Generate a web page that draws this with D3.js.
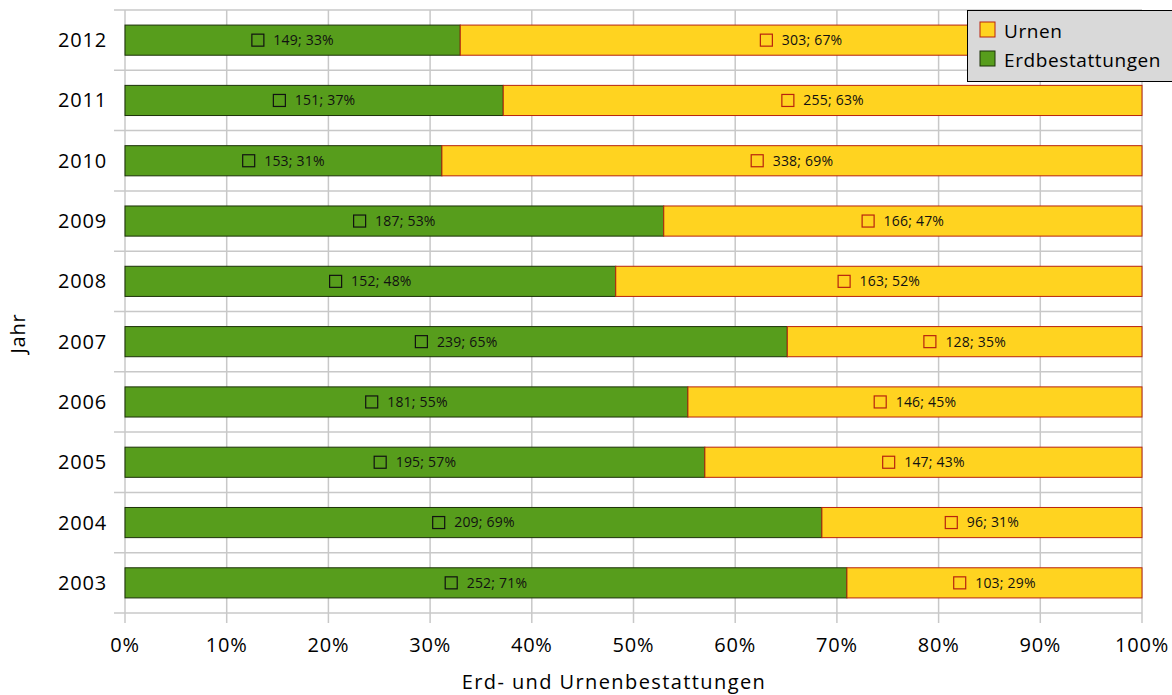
<!DOCTYPE html>
<html>
<head>
<meta charset="utf-8">
<script src="https://cdn.jsdelivr.net/npm/d3@7"></script>
<style>
  body { margin: 0; background: #fff; }
  svg { display: block; font-family: "Open Sans", sans-serif; }
</style>
</head>
<body>
<svg id="chart" width="1172" height="695"></svg>
<script>
const years = ["2012", "2011", "2010", "2009", "2008", "2007", "2006", "2005", "2004", "2003"]
const erd = [149, 151, 153, 187, 152, 239, 181, 195, 209, 252]
const urnen = [303, 255, 338, 166, 163, 128, 146, 147, 96, 103]
const erdPct = [33, 37, 31, 53, 48, 65, 55, 57, 69, 71]
const urnenPct = [67, 63, 69, 47, 52, 35, 45, 43, 31, 29]
const xTicks = [0, 0.1, 0.2, 0.3, 0.4, 0.5, 0.6, 0.7, 0.8, 0.9, 1]

const green = '#579d1c', greenLine = '#1c3209'
const yellow = '#ffd320', yellowLine = '#b8230e'
const grid = '#c8c8c8'

const margin = { top: 10, right: 30, bottom: 82, left: 125 }
const w = 1172, h = 695
const width = w - margin.left - margin.right
const height = h - margin.top - margin.bottom

const svg = d3.select('#chart')
const chart = svg.append('g').attr('transform', `translate(${margin.left}, ${margin.top})`)

const x = d3.scaleLinear().domain([0, 1]).range([0, width])
const y = d3.scaleBand().domain(years).range([0, height]).paddingInner(0.5).paddingOuter(0.25)
const yb = d3.scaleBand().domain(years).range([0, height])

// gridlines + ticks
chart.append('g').selectAll('line')
    .data(xTicks)
    .join('line')
    .attr('x1', d => x(d)).attr('x2', d => x(d))
    .attr('y1', 0).attr('y2', height + 10)
    .attr('stroke', grid).attr('stroke-width', 1.5)

const bounds = years.map(d => yb(d)).concat([height])
chart.append('g').selectAll('line')
    .data(bounds)
    .join('line')
    .attr('x1', -11).attr('x2', width)
    .attr('y1', d => d).attr('y2', d => d)
    .attr('stroke', grid).attr('stroke-width', 1.5)

const rows = years.map((yr, i) => {
    const total = erd[i] + urnen[i]
    return { yr, e: erd[i], u: urnen[i], ep: erdPct[i], up: urnenPct[i], share: erd[i] / total }
})

const bars = chart.append('g')
bars.selectAll('rect.erd')
    .data(rows)
    .join('rect')
    .attr('class', 'erd')
    .attr('x', x(0)).attr('y', d => y(d.yr))
    .attr('width', d => x(d.share) - x(0)).attr('height', y.bandwidth())
    .attr('fill', green).attr('stroke', greenLine).attr('stroke-width', 1)

bars.selectAll('rect.urn')
    .data(rows)
    .join('rect')
    .attr('class', 'urn')
    .attr('x', d => x(d.share)).attr('y', d => y(d.yr))
    .attr('width', d => x(1) - x(d.share)).attr('height', y.bandwidth())
    .attr('fill', yellow).attr('stroke', yellowLine).attr('stroke-width', 1)

// data labels: small key square + "n; p%"
function label(sel, cx, txt, col) {
    const g = sel.append('g')
    const t = g.append('text')
        .attr('x', 22).attr('y', 0).attr('dy', '0.35em')
        .attr('font-size', 14).attr('letter-spacing', 0.2).attr('fill', '#111')
        .text(txt)
    const tw = t.node().getComputedTextLength()
    g.append('rect')
        .attr('x', 0.5).attr('y', -6).attr('width', 12).attr('height', 12)
        .attr('fill', 'none').attr('stroke', col).attr('stroke-width', 1.2)
    g.attr('transform', `translate(${cx - (22 + tw) / 2}, 0)`)
}

rows.forEach(d => {
    const cy = y(d.yr) + y.bandwidth() / 2
    const row = chart.append('g').attr('transform', `translate(0, ${cy})`)
    label(row, (x(0) + x(d.share)) / 2, `${d.e}; ${d.ep}%`, '#111')
    label(row, (x(d.share) + x(1)) / 2, `${d.u}; ${d.up}%`, yellowLine)
})

// axes labels
chart.append('g').selectAll('text')
    .data(years)
    .join('text')
    .attr('x', -18).attr('y', d => yb(d) + yb.bandwidth() / 2)
    .attr('dy', '0.35em').attr('text-anchor', 'end')
    .attr('font-size', 20).attr('letter-spacing', 0.8)
    .text(d => d)

chart.append('g').selectAll('text')
    .data(xTicks)
    .join('text')
    .attr('x', d => x(d)).attr('y', height + 39)
    .attr('text-anchor', 'middle')
    .attr('font-size', 20).attr('letter-spacing', 0.8)
    .text(d => d3.format('.0%')(d))

chart.append('text')
    .attr('x', 489).attr('y', height + 76)
    .attr('text-anchor', 'middle')
    .attr('font-size', 20).attr('letter-spacing', 1.4)
    .text('Erd- und Urnenbestattungen')

svg.append('text')
    .attr('transform', `translate(25, ${margin.top + height / 2 + 22}) rotate(-90)`)
    .attr('text-anchor', 'middle')
    .attr('font-size', 20).attr('letter-spacing', 0.8)
    .text('Jahr')

// legend
const legend = svg.append('g').attr('transform', 'translate(967, 10)')
legend.append('rect')
    .attr('x', 0.5).attr('y', 0.5).attr('width', 210).attr('height', 71)
    .attr('fill', '#d9d9d9').attr('stroke', '#000').attr('stroke-width', 1)
const keys = [['Urnen', yellow, yellowLine], ['Erdbestattungen', green, greenLine]]
keys.forEach(([name, fill, line], i) => {
    legend.append('rect')
        .attr('x', 13).attr('y', 12 + i * 29).attr('width', 15).attr('height', 15)
        .attr('fill', fill).attr('stroke', line).attr('stroke-width', 1)
    legend.append('text')
        .attr('x', 37).attr('y', 21 + i * 29).attr('dy', '0.35em')
        .attr('font-size', 19).attr('letter-spacing', 0.6)
        .text(name)
})
</script>
</body>
</html>
